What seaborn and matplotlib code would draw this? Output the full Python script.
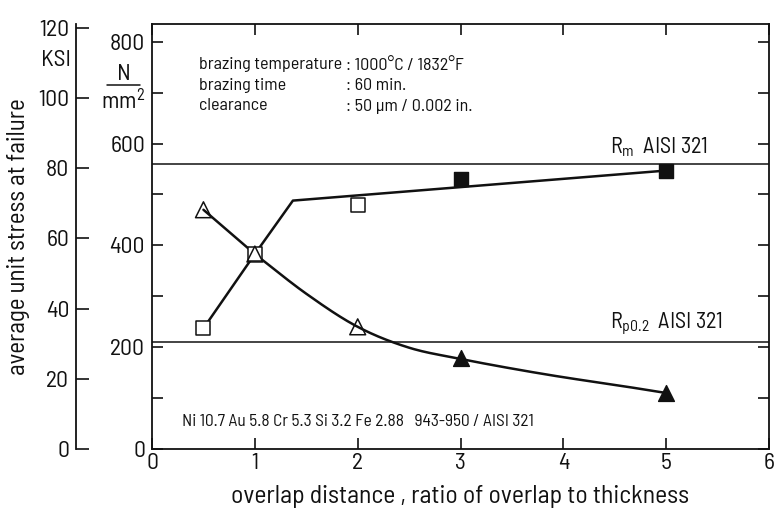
import numpy as np
import pandas as pd
import matplotlib
matplotlib.use("Agg")
import matplotlib.pyplot as plt
import seaborn as sns
from matplotlib.lines import Line2D

# ---------------- data ----------------
open_sq_x = [0.5, 1.0, 2.0]
open_sq_y = [237, 383, 480]
fill_sq_x = [3.0, 5.0]
fill_sq_y = [531, 547]
open_tri_x = [0.5, 1.0, 2.0]
open_tri_y = [470, 383, 240]
fill_tri_x = [3.0, 5.0]
fill_tri_y = [179, 110]

# fitted curves as drawn in the reference
sq_curve_x = [0.5, 1.0, 1.37, 5.0]
sq_curve_y = [237, 383, 488, 547]
tri_curve_x = [0.5, 1.0, 1.5, 2.0, 2.5, 3.0, 3.5, 4.0, 4.5, 5.0]
tri_curve_y = [470, 383, 305, 240, 199, 177, 158, 141, 126, 110]

rm_value = 559
rp_value = 210

x_ticks = [0, 1, 2, 3, 4, 5, 6]
y_ticks = [0, 200, 400, 600, 800]
ksi_ticks = [0, 20, 40, 60, 80, 100, 120]

FONT = ['Barlow Semi Condensed', 'Archivo Narrow', 'DejaVu Sans']

# ---------------- styling ----------------
sns.set_theme(style="ticks")
plt.rcParams['font.family'] = FONT
plt.rcParams['mathtext.fontset'] = 'custom'
plt.rcParams['mathtext.rm'] = 'Barlow Semi Condensed'
plt.rcParams['mathtext.it'] = 'Barlow Semi Condensed'
plt.rcParams['axes.linewidth'] = 1.3
plt.rcParams['text.color'] = '#111111'

fig = plt.figure(figsize=(7.78, 5.09), dpi=100)
ax = fig.add_axes([0.1954, 0.1179, 0.7931, 0.8350])


def catmull(xs, ys, n=20):
    xs = np.asarray(xs, float); ys = np.asarray(ys, float)
    px = np.concatenate([[2 * xs[0] - xs[1]], xs, [2 * xs[-1] - xs[-2]]])
    py = np.concatenate([[2 * ys[0] - ys[1]], ys, [2 * ys[-1] - ys[-2]]])
    ox, oy = [], []
    for i in range(1, len(px) - 2):
        t = np.linspace(0, 1, n, endpoint=False)
        for arr, out in ((px, ox), (py, oy)):
            p0, p1, p2, p3 = arr[i - 1], arr[i], arr[i + 1], arr[i + 2]
            out.extend(0.5 * ((2 * p1) + (-p0 + p2) * t + (2 * p0 - 5 * p1 + 4 * p2 - p3) * t ** 2
                              + (-p0 + 3 * p1 - 3 * p2 + p3) * t ** 3))
    ox.append(xs[-1]); oy.append(ys[-1])
    return np.array(ox), np.array(oy)


tx, ty = catmull(tri_curve_x[1:], tri_curve_y[1:])
tri_df = pd.DataFrame({"x": np.concatenate([[tri_curve_x[0]], tx]),
                       "y": np.concatenate([[tri_curve_y[0]], ty])})
sq_df = pd.DataFrame({"x": sq_curve_x, "y": sq_curve_y})

sns.lineplot(data=sq_df, x="x", y="y", ax=ax, color="#111111", lw=1.8,
             sort=False, estimator=None)
sns.lineplot(data=tri_df, x="x", y="y", ax=ax, color="#111111", lw=1.8,
             sort=False, estimator=None)

ax.axhline(rm_value, color="#111111", lw=1.1, zorder=1)
ax.axhline(rp_value, color="#111111", lw=1.1, zorder=1)

sns.scatterplot(x=open_sq_x, y=open_sq_y, ax=ax, marker="s", s=110,
                facecolor="white", edgecolor="#111111", linewidth=1.1, zorder=5)
sns.scatterplot(x=fill_sq_x, y=fill_sq_y, ax=ax, marker="s", s=110,
                color="#111111", edgecolor="#111111", linewidth=1.0, zorder=5)
sns.scatterplot(x=open_tri_x, y=open_tri_y, ax=ax, marker="^", s=130,
                facecolor="none", edgecolor="#111111", linewidth=1.1, zorder=6)
sns.scatterplot(x=fill_tri_x, y=fill_tri_y, ax=ax, marker="^", s=130,
                color="#111111", edgecolor="#111111", linewidth=1.0, zorder=5)

ax.set_xlim(0, 6)
ax.set_ylim(0, 835)
ax.set_xticks(x_ticks)
ax.set_xticklabels([str(v) for v in x_ticks])
ax.set_yticks(y_ticks)
ax.set_yticklabels([str(v) for v in y_ticks])
ax.set_yticks([100, 300, 500, 700], minor=True)
ax.set_xlabel("")
ax.set_ylabel("")
for s in ax.spines.values():
    s.set_visible(True)
    s.set_color("#111111")
ax.tick_params(axis='both', which='both', direction='in', length=8, width=1.2,
               top=True, right=True, left=True, bottom=True, colors="#111111",
               labelsize=17, labelright=False, labeltop=False)
ax.tick_params(axis='y', which='both', pad=5)
ax.tick_params(axis='x', which='both', pad=3)
for lab in ax.get_xticklabels() + ax.get_yticklabels():
    lab.set_family(FONT)

conv = 6.89476
sec = ax.secondary_yaxis(location=-0.123, functions=(lambda y: y / conv, lambda k: k * conv))
sec.set_yticks(ksi_ticks)
sec.set_yticklabels([str(v) for v in ksi_ticks])
sec.tick_params(direction='in', length=9, width=1.2, labelsize=17, pad=5, colors="#111111")
sec.spines['left'].set_linewidth(1.3)
sec.spines['left'].set_color("#111111")
for lab in sec.get_yticklabels():
    lab.set_family(FONT)

fig.text(56 / 778, 1 - 60 / 509, "KSI", ha='center', va='center', fontsize=17, family=FONT)
fig.text(124 / 778, 1 - 75 / 509, "N", ha='center', va='center', fontsize=17, family=FONT)
fig.text(123 / 778, 1 - 102 / 509, "mm$^2$", ha='center', va='center', fontsize=17, family=FONT)
fig.add_artist(Line2D([107 / 778, 140 / 778], [1 - 85 / 509, 1 - 85 / 509],
                      color="#111111", lw=1.1, transform=fig.transFigure))

fig.text(19 / 778, 1 - 237 / 509, "average unit stress at failure", rotation=90,
         ha='center', va='center', fontsize=18, family=FONT)
fig.text(460 / 778, 1 - 496 / 509, "overlap distance , ratio of overlap to thickness",
         ha='center', va='center', fontsize=18.5, family=FONT)

info_rows = [("brazing temperature", ": 1000°C / 1832°F", 65),
             ("brazing time", ": 60 min.", 86),
             ("clearance", ": 50 µm / 0.002 in.", 106)]
for left, right, yy in info_rows:
    fig.text(199 / 778, 1 - yy / 509, left, ha='left', va='center', fontsize=13, family=FONT)
    fig.text(346 / 778, 1 - yy / 509, right, ha='left', va='center', fontsize=13, family=FONT)

fig.text(182 / 778, 1 - 421 / 509,
         "Ni 10.7 Au 5.8 Cr 5.3 Si 3.2 Fe 2.88   943-950 / AISI 321",
         ha='left', va='center', fontsize=12.5, family=FONT)

ax.text(4.45, rm_value + 10, r"R$_\mathregular{m}$  AISI 321", ha='left', va='bottom',
        fontsize=16, family=FONT)
ax.text(4.45, rp_value + 10, r"R$_\mathregular{p0.2}$  AISI 321", ha='left', va='bottom',
        fontsize=16, family=FONT)

fig.savefig("out.png", dpi=100, facecolor="white")
